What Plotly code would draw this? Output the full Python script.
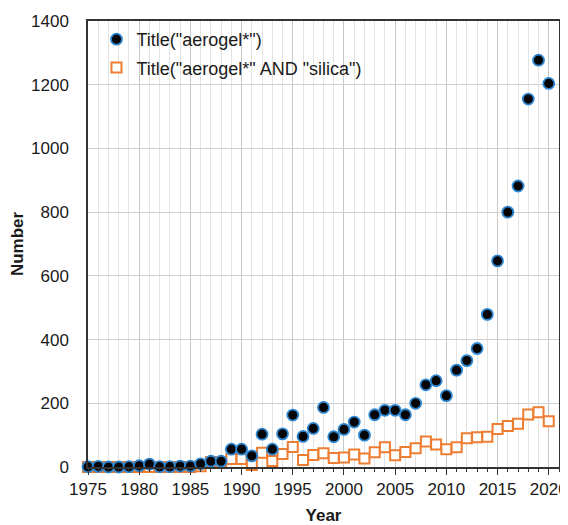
import plotly.graph_objects as go

years = list(range(1975, 2021))
aerogel = [1, 2, 0, 0, 1, 4, 9, 1, 1, 3, 3, 10, 18, 18,
           56, 56, 35, 103, 56, 104, 163, 96, 121, 187, 95, 118,
           141, 100, 164, 178, 178, 164, 200, 258, 271, 224, 304, 334,
           372, 479, 647, 800, 882, 1155, 1277, 1204]
silica = [0, 0, 0, 0, 0, 0, 0, 0, 0, 0, 0, 2, 16, 15,
          25, 25, 6, 45, 19, 41, 63, 22, 38, 43, 28, 30,
          39, 27, 46, 62, 37, 47, 59, 80, 71, 56, 62, 90,
          93, 95, 119, 129, 136, 165, 172, 144]
x_ticks = [1975, 1980, 1985, 1990, 1995, 2000, 2005, 2010, 2015, 2020]
y_ticks = [0, 200, 400, 600, 800, 1000, 1200, 1400]

FONT = "Arial, Liberation Sans, sans-serif"

fig = go.Figure()
fig.add_trace(go.Scatter(
    x=years, y=silica, mode="markers", name='Title("aerogel*" AND "silica")',
    marker=dict(symbol="square", size=10, color="white",
                line=dict(color="#ED7D31", width=2)),
    cliponaxis=False, legendrank=2, legendgroup="b"))
fig.add_trace(go.Scatter(
    x=years, y=aerogel, mode="markers", name='Title("aerogel*")',
    marker=dict(symbol="circle", size=11, color="#050505",
                line=dict(color="#2E86D0", width=1.8)),
    cliponaxis=False, legendrank=1, legendgroup="a"))

# page body has an 8px margin, so the figure is sized to fit the 568x525 window
fig.update_layout(
    width=560, height=517,
    margin=dict(l=80, r=9, t=13, b=58),
    paper_bgcolor="white", plot_bgcolor="white",
    font=dict(family=FONT, size=17, color="#1a1a1a"),
    showlegend=True,
    legend=dict(x=0.018, y=1.0, xanchor="left", yanchor="top",
                bgcolor="rgba(0,0,0,0)", font=dict(size=18),
                tracegroupgap=2, itemwidth=30),
    xaxis=dict(range=[1975, 2021], tickvals=x_ticks, ticktext=[str(v) for v in x_ticks],
               automargin=False,
               showgrid=True, gridcolor="#c8c8c8", gridwidth=1,
               minor=dict(dtick=1, tick0=1975, showgrid=True, gridcolor="#e3e3e3",
                          ticks="outside", ticklen=3, tickcolor="#333"),
               ticks="outside", ticklen=6, tickcolor="#333",
               showline=True, linecolor="#333", linewidth=1.5, mirror=True,
               zeroline=False,
               title=dict(text="<b>Year</b>", standoff=13, font=dict(size=17))),
    yaxis=dict(range=[0, 1400], tickvals=y_ticks, automargin=False,
               showgrid=True, gridcolor="#d0d0d0", gridwidth=1,
               ticks="", ticklabelstandoff=14,
               showline=True, linecolor="#333", linewidth=1.5, mirror=True,
               zeroline=False,
               title=dict(text="<b>Number</b>", standoff=5, font=dict(size=17))),
)

fig.write_html("out.html")
